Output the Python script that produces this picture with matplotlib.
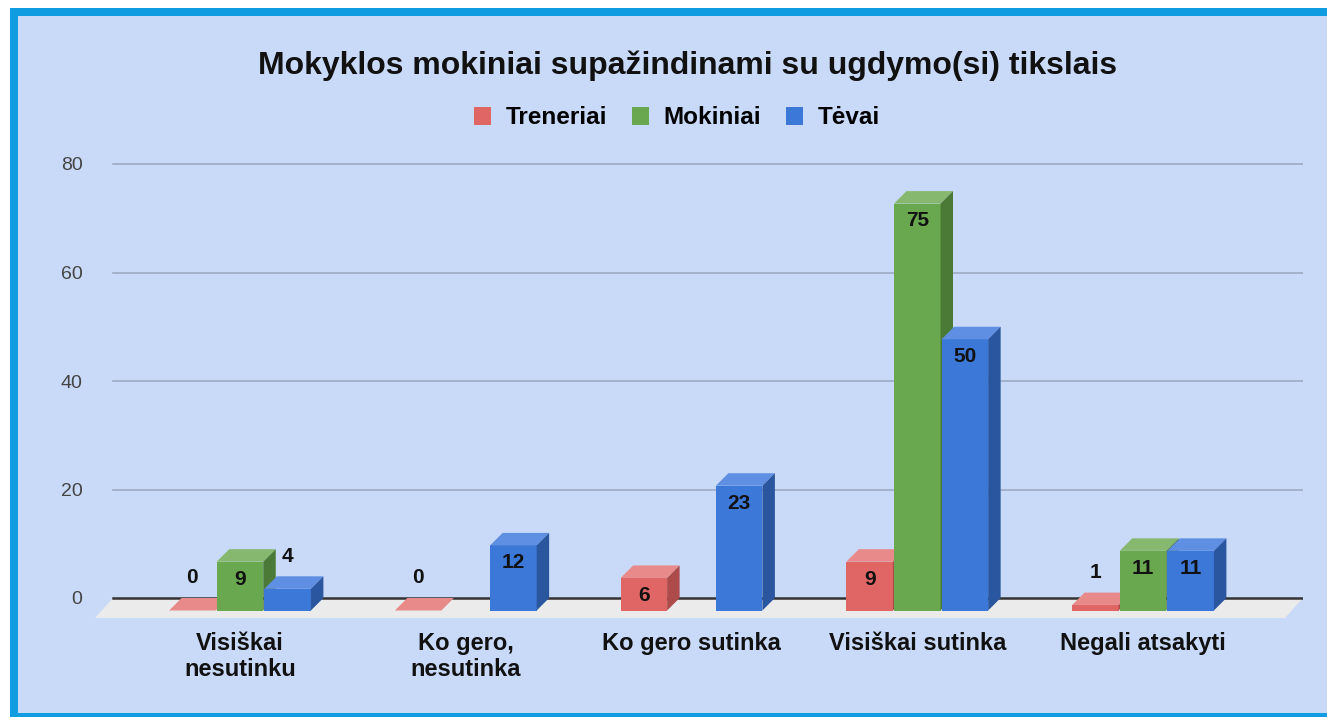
import matplotlib
matplotlib.use('Agg')
import matplotlib.pyplot as plt
from matplotlib.patches import Polygon, Rectangle, Patch

plt.rcParams['font.family'] = ['Liberation Sans', 'DejaVu Sans']

title = "Mokyklos mokiniai supažindinami su ugdymo(si) tikslais"
categories = ["Visiškai\nnesutinku", "Ko gero,\nnesutinka", "Ko gero sutinka",
              "Visiškai sutinka", "Negali atsakyti"]
series_names = ["Treneriai", "Mokiniai", "Tėvai"]
treneriai = [0, 0, 6, 9, 1]
mokiniai = [9, None, None, 75, 11]
tevai = [4, 12, 23, 50, 11]
yticks = [0, 20, 40, 60, 80]

# front / top / side colours per series
front_c = ['#e06666', '#6aa84f', '#3c78d8']
top_c = ['#e88a8a', '#86b86f', '#5e8fe2']
side_c = ['#ad4b4b', '#4b7a36', '#2a56a0']

W, H = 1327, 717
fig = plt.figure(figsize=(W / 100, H / 100), dpi=100)
fig.patch.set_facecolor('white')
# frame
fig.patches.append(Rectangle((10 / W, 0), 1, (H - 8) / H, transform=fig.transFigure,
                             facecolor='#0f9ce0', edgecolor='none', zorder=-5))
fig.patches.append(Rectangle((18 / W, 4 / H), 1, (H - 20) / H, transform=fig.transFigure,
                             facecolor='#c9daf8', edgecolor='none', zorder=-4))

# axes placed so that 1 category = 225.75 px, 1 value unit = 5.425 px
px_x, px_y = 225.75, 5.425
ax = fig.add_axes([95 / W, (H - 618) / H, 1208 / W, 468 / H])
ax.set_facecolor('none')
xmin, xmax = (95 - 240) / px_x, (1303 - 240) / px_x
ymin, ymax = -20 / px_y, 448 / px_y
ax.set_xlim(xmin, xmax)
ax.set_ylim(ymin, ymax)
for s in ax.spines.values():
    s.set_visible(False)

xg0 = (113 - 240) / px_x
# floor
ax.add_patch(Polygon([(xg0, 0), (xmax, 0), (xmax - 18 / px_x, ymin), (xmin, ymin)],
                     closed=True, facecolor='#ebebeb', edgecolor='none', zorder=1))
for v in yticks[1:]:
    ax.plot([xg0, xmax], [v, v], color='#9eabc4', lw=1.2, zorder=0.5)
ax.plot([xg0, xmax], [0, 0], color='#333333', lw=1.8, zorder=2)

w = 0.206
offs = [-0.211, 0, 0.211]
dx, dy = 12.5 / px_x, 12.5 / px_y
z = 3
for i in range(len(categories)):
    for k, data in enumerate([treneriai, mokiniai, tevai]):
        v = data[i]
        if v is None:
            continue
        xc = i + offs[k]
        x0 = xc - w / 2
        ax.bar(xc, v, width=w, bottom=-dy, color=front_c[k], zorder=z)
        ax.add_patch(Polygon([(x0, v - dy), (x0 + w, v - dy), (x0 + w + dx, v), (x0 + dx, v)],
                             closed=True, facecolor=top_c[k], edgecolor='none', zorder=z))
        ax.add_patch(Polygon([(x0 + w, -dy), (x0 + w + dx, 0), (x0 + w + dx, v), (x0 + w, v - dy)],
                             closed=True, facecolor=side_c[k], edgecolor='none', zorder=z))
        if v >= 6:
            ty = v - dy - 3.2
        else:
            ty = v + 3.7
        ax.text(xc, ty, str(v), ha='center', va='center', fontsize=15,
                fontweight='bold', color='#111111', zorder=z + 0.5)
        z += 1

ax.set_yticks(yticks)
ax.set_yticklabels([str(t) for t in yticks], fontsize=14, color='#444444')
ax.set_xticks(range(len(categories)))
ax.set_xticklabels(categories, fontsize=17, fontweight='bold', color='#111111',
                   linespacing=1.2)
ax.tick_params(axis='y', length=0, pad=9)
ax.tick_params(axis='x', length=0, pad=10)

fig.text(688 / W, 1 - 66 / H, title, ha='center', va='center', fontsize=23,
         fontweight='bold', color='#111111')

handles = [Patch(facecolor=c, edgecolor='none') for c in front_c]
fig.legend(handles, series_names, loc='center', bbox_to_anchor=(677 / W, 1 - 118 / H),
           ncol=3, frameon=False, prop={'weight': 'bold', 'size': 17.5},
           handlelength=0.72, handleheight=0.72, handletextpad=0.6, columnspacing=1.0)

fig.savefig('out.png', dpi=100)
